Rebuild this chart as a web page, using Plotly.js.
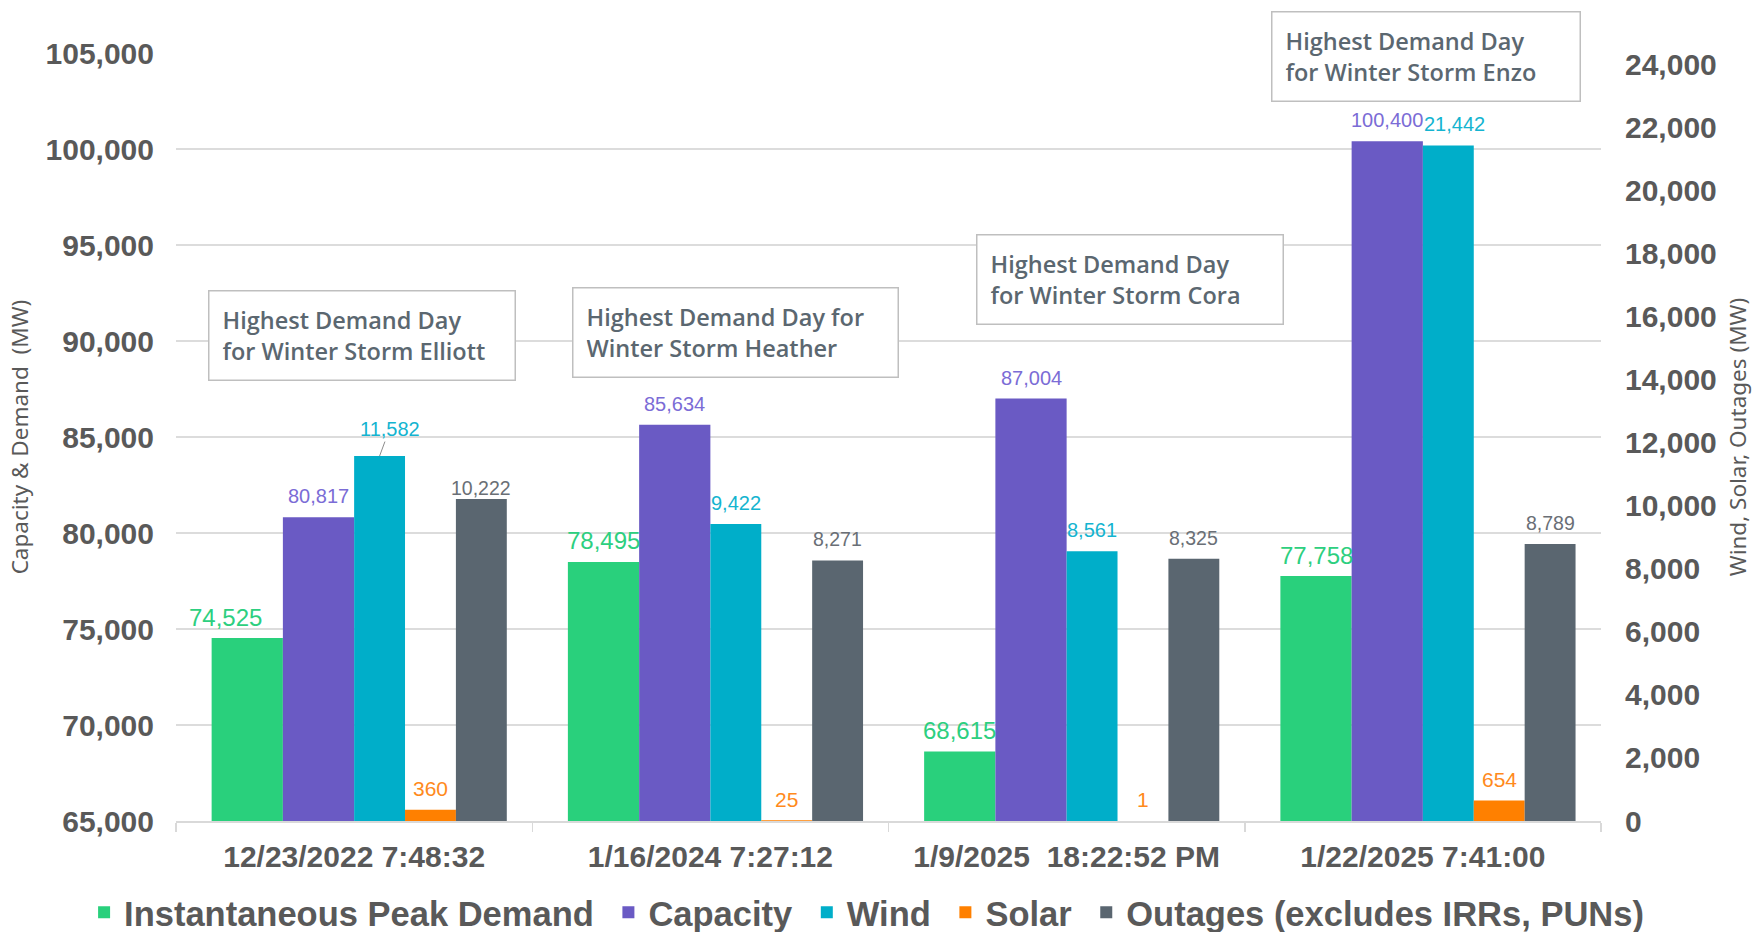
<!DOCTYPE html>
<html>
<head>
<meta charset="utf-8">
<script src="https://cdn.plot.ly/plotly-3.0.1.min.js"></script>
<style>
  html, body { margin: 0; padding: 0; background: #ffffff; }
  #chart { width: 1753px; height: 932px; }
</style>
</head>
<body>
<div id="chart"></div>
<script>
// ---------- data ----------
const categories = ['12/23/2022 7:48:32', '1/16/2024 7:27:12', '1/9/2025\u00a0\u00a018:22:52 PM', '1/22/2025 7:41:00'];
const seriesNames = ['Instantaneous Peak Demand', 'Capacity', 'Wind', 'Solar', 'Outages (excludes IRRs, PUNs)'];
const peakDemand = [74525, 78495, 68615, 77758];
const capacity   = [80817, 85634, 87004, 100400];
const wind       = [11582, 9422, 8561, 21442];
const solar      = [360, 25, 1, 654];
const outages    = [10222, 8271, 8325, 8789];
const stormNotes = [
  'Highest Demand Day<br>for Winter Storm Elliott',
  'Highest Demand Day for<br>Winter Storm Heather',
  'Highest Demand Day<br>for Winter Storm Cora',
  'Highest Demand Day<br>for Winter Storm Enzo'
];
const leftTicks  = [65000, 70000, 75000, 80000, 85000, 90000, 95000, 100000, 105000];
const rightTicks = [0, 2000, 4000, 6000, 8000, 10000, 12000, 14000, 16000, 18000, 20000, 22000, 24000];

// ---------- style ----------
const C = {
  demand: '#29D07C', capacity: '#6A5AC4', wind: '#00AEC9', solar: '#FF8000', outages: '#5A6670'
};
const LBL = {
  demand: '#2DCF80', capacity: '#7B6CD6', wind: '#14B4D0', solar: '#FF8A1C', outages: '#6A6F76'
};
const AXIS_FONT = { family: 'Liberation Sans, Arial, sans-serif', size: 30, color: '#595959', weight: 'bold' };
const fmt = v => v.toLocaleString('en-US');

const pw = 0.2;      // primary bar width (category units)
const sw = 1 / 7;    // secondary bar width

const series = [
  { name: seriesNames[0], y: peakDemand, axis: 'y',  color: C.demand,   lbl: LBL.demand,   w: pw, off: -0.4,   fs: 24 },
  { name: seriesNames[1], y: capacity,   axis: 'y',  color: C.capacity, lbl: LBL.capacity, w: pw, off: -0.2,   fs: 20 },
  { name: seriesNames[2], y: wind,       axis: 'y2', color: C.wind,     lbl: LBL.wind,     w: sw, off: 0,      fs: 20 },
  { name: seriesNames[3], y: solar,      axis: 'y2', color: C.solar,    lbl: LBL.solar,    w: sw, off: sw,     fs: 21 },
  { name: seriesNames[4], y: outages,    axis: 'y2', color: C.outages,  lbl: LBL.outages,  w: sw, off: 2 * sw, fs: 19.5 }
];

const traces = series.map((s, si) => ({
  type: 'bar',
  // a trailing no-break space widens the gap between legend entries
  name: si < series.length - 1 ? s.name + '\u00a0' : s.name,
  x: categories,
  y: s.y,
  yaxis: s.axis,
  width: s.w,
  offset: s.off,
  marker: { color: s.color, line: { width: 0 } },
  hoverinfo: 'skip'
}));

// data labels
const annotations = [];
series.forEach((s, si) => {
  s.y.forEach((v, i) => {
    const a = {
      x: i + s.off + s.w / 2,
      y: v,
      xref: 'x',
      yref: s.axis,
      text: fmt(v),
      showarrow: false,
      yanchor: 'middle',
      yshift: 21,
      font: { family: 'Liberation Sans, Arial, sans-serif', size: s.fs, color: s.lbl }
    };
    if (si === 0 && i === 0) a.xshift = -22;
    if (si === 4 && i === 0) a.yshift = 11;
    if (si === 2 && i === 0) {
      // label with leader line
      a.showarrow = true;
      a.arrowhead = 0;
      a.arrowwidth = 1;
      a.arrowcolor = '#8C8C8C';
      a.ax = 10;
      a.ay = -27;
      a.yshift = 0;
      a.standoff = 0;
    }
    if (si === 2 && i === 3) a.xshift = 6;
    annotations.push(a);
  });
});

// storm note boxes
const boxes = [
  { x: 0.0228, y: 0.6916, w: 279 },
  { x: 0.2781, y: 0.6955, w: 298 },
  { x: 0.5616, y: 0.7645, w: 279 },
  { x: 0.7685, y: 1.0547, w: 281 }
];
stormNotes.forEach((t, i) => {
  annotations.push({
    xref: 'paper', yref: 'paper',
    x: boxes[i].x, y: boxes[i].y,
    xanchor: 'left', yanchor: 'top',
    text: t,
    showarrow: false,
    align: 'left',
    valign: 'middle',
    width: boxes[i].w,
    height: 62,
    borderpad: 13,
    borderwidth: 1.5,
    bordercolor: '#BFBFBF',
    bgcolor: '#FFFFFF',
    font: { family: 'Open Sans, sans-serif', size: 23.5, color: '#5B6770', weight: 600 }
  });
});

const layout = {
  width: 1753,
  height: 932,
  margin: { l: 175.5, r: 152, t: 53, b: 110.5, autoexpand: false },
  paper_bgcolor: '#FFFFFF',
  plot_bgcolor: '#FFFFFF',
  barmode: 'overlay',
  showlegend: true,
  hovermode: false,
  legend: {
    orientation: 'h',
    x: -0.0645, xanchor: 'left',
    y: -0.119, yanchor: 'middle',
    font: { family: 'Liberation Sans, Arial, sans-serif', size: 34.5, color: '#595959', weight: 'bold' },
    itemwidth: 30,
    traceorder: 'normal',
    bgcolor: 'rgba(0,0,0,0)'
  },
  xaxis: {
    type: 'category',
    tickson: 'boundaries',
    ticks: 'outside',
    ticklen: 9,
    tickwidth: 1.5,
    tickcolor: '#D9D9D9',
    showline: true,
    linecolor: '#D9D9D9',
    linewidth: 1.5,
    showgrid: false,
    tickfont: AXIS_FONT,
    ticklabelstandoff: 8,
    range: [-0.5, 3.5],
    fixedrange: true
  },
  yaxis: {
    range: [65000, 105000],
    tickvals: leftTicks,
    ticktext: leftTicks.map(fmt),
    showgrid: true,
    gridcolor: '#DCDCDC',
    gridwidth: 1.5,
    zeroline: false,
    showline: false,
    ticks: '',
    tickfont: AXIS_FONT,
    ticklabelstandoff: 21,
    title: {
      text: 'Capacity &amp; Demand  (MW)',
      standoff: 10,
      font: { family: 'Noto Sans, Open Sans, sans-serif', size: 22.5, color: '#595959' }
    },
    fixedrange: true
  },
  yaxis2: {
    overlaying: 'y',
    side: 'right',
    range: [0, 24374],
    tickvals: rightTicks,
    ticktext: rightTicks.map(fmt),
    showgrid: false,
    zeroline: false,
    showline: false,
    ticks: '',
    tickfont: AXIS_FONT,
    ticklabelstandoff: 23,
    title: {
      text: 'Wind, Solar, Outages (MW)',
      standoff: 17,
      font: { family: 'Noto Sans, Open Sans, sans-serif', size: 22.5, color: '#595959' }
    },
    fixedrange: true
  },
  annotations: annotations
};

Plotly.newPlot('chart', traces, layout, { staticPlot: true, displayModeBar: false });
</script>
</body>
</html>
